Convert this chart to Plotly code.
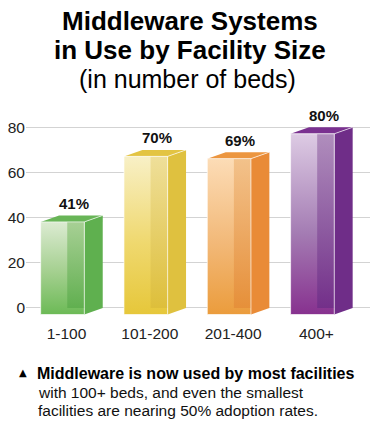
import plotly.graph_objects as go

# ---- data ----
categories = ["1-100", "101-200", "201-400", "400+"]
values = [41, 70, 69, 80]
value_labels = ["41%", "70%", "69%", "80%"]
y_ticks = [0, 20, 40, 60, 80]

# ---- palette (per bar) ----
front_top = ["#dcebd2", "#f8f0c6", "#fcdcb6", "#ddcbe4"]
front_mid = ["#a3cf8e", "#efd86e", "#f2b877", "#a47cb3"]
front_bot = ["#6cba56", "#e6c73a", "#eb9c3c", "#87318f"]
inner_top = ["#9ecb8a", "#eddc92", "#f1bd83", "#a883b6"]
inner_bot = ["#5dad4d", "#dcbd3a", "#e58d38", "#6f2e88"]
side_col = ["#5fb04f", "#dfc13f", "#e98b37", "#6f2d88"]
topf_col = ["#68b557", "#e3c443", "#ec9640", "#7a3190"]

# geometry (axis units)
FL, FR = -0.31, 0.214   # front face left/right offset from category
IX = 0.009              # start of darker inner (back) region
DX, DY = 0.221, 2.88    # depth offsets

W, H = 378, 425
ML, MR, MT, MB = 26, 8, 95, 107
PW, PH = W - ML - MR, H - MT - MB


def px(x):
    return (x - ML) / PW


def py(y):
    return (H - MB - y) / PH


fig = go.Figure()
x_idx = list(range(len(categories)))

for i, v in zip(x_idx, values):
    fl, fr = i + FL, i + FR
    ft = v - DY
    # side face
    fig.add_trace(go.Scatter(
        x=[fr, fr + DX, fr + DX, fr, fr], y=[ft, v, 0, -DY, ft],
        fill="toself", fillcolor=side_col[i], mode="none",
        hoverinfo="skip", showlegend=False))
    # top face
    fig.add_trace(go.Scatter(
        x=[fl, fl + DX, fr + DX, fr, fl], y=[ft, v, v, ft, ft],
        fill="toself", fillcolor=topf_col[i], mode="none",
        hoverinfo="skip", showlegend=False))
    # front face
    fig.add_trace(go.Scatter(
        x=[fl, fr, fr, fl, fl], y=[-DY, -DY, ft, ft, -DY],
        fill="toself", mode="none",
        fillgradient=dict(type="vertical",
                          colorscale=[[0, front_bot[i]], [0.45, front_mid[i]], [1, front_top[i]]],
                          start=-DY, stop=ft),
        hoverinfo="skip", showlegend=False))
    # inner darker (back) region
    fig.add_trace(go.Scatter(
        x=[i + IX, fr, fr, i + IX, i + IX], y=[0, 0, ft, ft, 0],
        fill="toself", mode="none",
        fillgradient=dict(type="vertical",
                          colorscale=[[0, inner_bot[i]], [1, inner_top[i]]],
                          start=0, stop=ft),
        opacity=0.85,
        hoverinfo="skip", showlegend=False))
    # edges
    fig.add_trace(go.Scatter(
        x=[fl, fr, fr, fl, fl, None, fr, fr + DX],
        y=[-DY, -DY, ft, ft, -DY, None, ft, v],
        mode="lines", line=dict(color="rgba(255,255,255,0.65)", width=1),
        hoverinfo="skip", showlegend=False))

# value labels
for i, (v, t) in enumerate(zip(values, value_labels)):
    fig.add_annotation(x=i + 0.085, y=v, text=t, showarrow=False,
                       yanchor="middle", yshift=12,
                       font=dict(family="Liberation Sans Narrow, Arial Narrow, Liberation Sans, sans-serif",
                                 size=15, color="#111", weight="bold"))

title_font = "Liberation Sans, Arial, sans-serif"
fig.add_annotation(xref="paper", yref="paper", x=px(190), y=py(21), text="Middleware Systems",
                   showarrow=False, xanchor="center", yanchor="middle",
                   font=dict(family=title_font, size=26, color="#000", weight="bold"))
fig.add_annotation(xref="paper", yref="paper", x=px(190), y=py(50), text="in Use by Facility Size",
                   showarrow=False, xanchor="center", yanchor="middle",
                   font=dict(family=title_font, size=26, color="#000", weight="bold"))
fig.add_annotation(xref="paper", yref="paper", x=px(187), y=py(79), text="(in number of beds)",
                   showarrow=False, xanchor="center", yanchor="middle",
                   font=dict(family=title_font, size=25, color="#000"))

# footnote
fig.add_annotation(xref="paper", yref="paper", x=px(17), y=py(372), text="▲",
                   showarrow=False, xanchor="left", yanchor="middle",
                   font=dict(family="DejaVu Sans, sans-serif", size=10, color="#000"))
fig.add_annotation(xref="paper", yref="paper", x=px(35), y=py(373),
                   text="Middleware is now used by most facilities",
                   showarrow=False, xanchor="left", yanchor="middle",
                   font=dict(family=title_font, size=16, color="#000", weight="bold"))
fig.add_annotation(xref="paper", yref="paper", x=px(36), y=py(392),
                   text="with 100+ beds, and even the smallest",
                   showarrow=False, xanchor="left", yanchor="middle",
                   font=dict(family=title_font, size=15.5, color="#111"))
fig.add_annotation(xref="paper", yref="paper", x=px(36), y=py(410),
                   text="facilities are nearing 50% adoption rates.",
                   showarrow=False, xanchor="left", yanchor="middle",
                   font=dict(family=title_font, size=15.5, color="#111"))

fig.update_layout(
    width=W, height=H,
    margin=dict(l=ML, r=MR, t=MT, b=MB, autoexpand=False),
    paper_bgcolor="white", plot_bgcolor="white",
    showlegend=False,
    xaxis=dict(range=[-0.486, 3.643], tickvals=x_idx, ticktext=categories,
               showgrid=False, zeroline=False, showline=False, ticks="",
               ticklabelstandoff=4,
               tickfont=dict(family=title_font, size=15.5, color="#222"),
               fixedrange=True),
    yaxis=dict(range=[-4.43, 94.3], tickvals=y_ticks,
               showgrid=True, gridcolor="#d3d3d3", gridwidth=1,
               zeroline=False, showline=False, ticks="",
               tickfont=dict(family=title_font, size=15.5, color="#222"),
               fixedrange=True),
)

fig.write_html("out.html", config={"displayModeBar": False},
               post_script="document.body.style.margin='0';document.body.style.overflow='hidden';")
